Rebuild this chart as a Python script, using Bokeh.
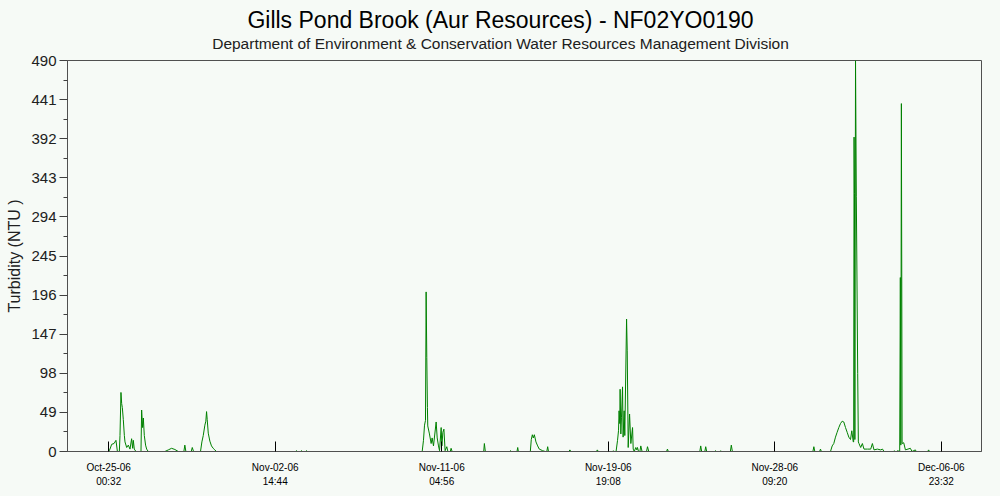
from datetime import datetime, timedelta

from bokeh.plotting import figure
from bokeh.models import (Range1d, FixedTicker, DatetimeTickFormatter, Label,
                          ColumnDataSource)
from bokeh.embed import file_html
from bokeh.resources import INLINE

# ---------------- data ----------------
title_text = "Gills Pond Brook (Aur Resources) - NF02YO0190"
subtitle_text = "Department of Environment & Conservation Water Resources Management Division"
y_label = "Turbidity (NTU )"

# reference time of the first tick (Oct-25-06 00:32)
t0 = datetime(2006, 10, 25, 0, 32)

# hours after t0
hours = [
    0, 1.6, 3.7, 6.6, 9.0, 10.8,
    13.2, 14.0, 15.2, 16.1, 16.9, 18.1, 19.4, 20.2, 22.3, 24.3, 26.4, 28.4, 29.7, 30.5, 31.7, 33.8,
    40.0, 40.8, 42.0, 42.9, 44.1, 45.7, 47.0, 49.0,
    69.6, 73.8, 77.9, 82.0, 86.2,
    93.1, 94.3, 95.6,
    102.2, 103.5, 105.1,
    113.7, 115.4, 117.1, 119.1, 120.3, 121.2, 122.0, 123.3, 125.3, 127.3, 129.4, 131.4, 133.5,
    231.3, 232.4, 233.5, 237.5, 238.6, 239.7, 243.7, 244.8, 246.0,
    388.2, 389.8, 391.1, 392.3, 393.1, 393.9, 394.7, 395.1, 397.2, 399.3, 400.5, 402.2, 405.5,
    406.8, 408.4, 409.7, 411.7, 412.6, 413.8, 415.1, 416.6, 418.7, 420.0, 423.0, 424.0, 425.3,
    464.4, 465.2, 466.4,
    496.3, 497.4, 498.5,
    505.6, 506.5, 507.3,
    522.1, 523.3, 524.6, 525.8, 527.1, 529.1, 531.2, 533.2, 537.4, 540.6,
    542.5, 543.6, 544.6,
    570.0, 571.1, 572.3,
    604.0, 605.1, 606.3,
    624.0, 625.0, 626.0, 628.3, 630.1, 631.3, 632.0, 632.9, 633.3, 634.2, 635.0, 636.3, 637.0, 638.3, 639.1,
    641.3, 642.1, 643.3, 645.0, 646.6, 648.7, 649.5, 650.8, 652.7, 654.0, 654.8, 656.1,
    657.8, 658.9, 660.5, 666.0, 667.2, 668.8, 690.8, 691.9, 693.0, 732.0, 733.1, 734.3,
    738.2, 739.3, 740.5, 750.5, 751.6, 752.5, 756.8, 757.8, 758.8, 769.8, 771.0, 772.3,
    872.0, 873.2, 874.4, 880.3, 881.4, 882.5, 893.8, 895.9, 897.9, 900.0, 902.0, 904.1, 906.2,
    908.3, 910.3, 912.4, 914.5, 916.5, 918.6, 920.2, 922.0, 922.5, 923.0, 923.5, 924.0, 924.8,
    925.8, 927.5, 928.3, 929.1, 931.2, 933.3, 935.3, 939.5, 943.6, 945.7, 947.7, 951.9,
    956.0, 958.2, 960.2, 971.5, 972.5, 973.6, 975.7, 976.7, 979.5, 980.3, 980.9, 981.6,
    982.5, 984.5, 986.6, 992.7, 994.8, 998.9, 1000.0, 1014.2, 1015.3, 1016.4, 1031.0,
]

turbidity = [
    0, 3, 9, 10, 14, 0,
    0, 20, 74, 60, 55, 40, 20, 12, 5, 8, 3, 16, 4, 14, 3, 0,
    0, 52, 30, 42, 20, 8, 3, 0,
    0, 2, 4, 2.5, 0,
    0, 8, 0,
    0, 5, 0,
    0, 12, 20, 33, 38, 50, 40, 23, 13, 7, 4, 2, 0,
    0, 1, 0, 0, 1, 0, 0, 1, 0,
    0, 14, 33, 39, 200, 118, 55, 32, 22, 10, 17, 7, 37,
    17, 7, 1, 30, 7, 24, 28, 1, 6, 0, 0, 4, 0,
    0, 10, 0,
    0, 1, 0,
    0, 5, 0,
    0, 15, 21, 17, 21, 12, 7, 3, 1, 0,
    0, 6, 0,
    0, 2, 0,
    0, 2, 0,
    0, 1, 0, 0, 14, 26, 51, 35, 78, 22, 43, 81, 18, 51, 20,
    166, 127, 5, 47, 10, 30, 3, 0, 5, 2, 5, 0,
    0, 7, 0, 0, 6, 0, 0, 3, 0, 0, 7, 0,
    0, 6, 0, 0, 1, 0, 0, 1, 0, 0, 8, 0,
    0, 6, 0, 0, 3, 0, 0, 7, 10, 18, 24, 30, 35,
    38, 37, 30, 24, 18, 15, 26, 12, 12, 394, 323, 15, 490,
    320, 98, 12, 10, 5, 10, 3, 3, 3, 10, 2, 3,
    2, 3, 0, 0, 1, 0, 0, 1, 0, 218, 8, 436,
    10, 11, 2, 4, 0, 2, 0, 0, 2, 0, 0,
]

# axis ticks
x_tick_hours = [0, 206.2, 412.4, 618.6, 824.8, 1031.0]
y_ticks = [0, 49, 98, 147, 196, 245, 294, 343, 392, 441, 490]
y_minor_ticks = [24.5, 73.5, 122.5, 171.5, 220.5, 269.5, 318.5, 367.5, 416.5, 465.5]
x_range_hours = (-51.0, 1080.8)

# ---------------- build ----------------
EPOCH = datetime(1970, 1, 1)


def to_dt(h):
    return t0 + timedelta(hours=h)


def to_ms(dt):
    return (dt - EPOCH).total_seconds() * 1000.0


times = [to_dt(h) for h in hours]
src = ColumnDataSource(dict(t=times, v=turbidity))

BG = "#F6FAF6"
FONT = "Liberation Sans"

p = figure(width=1000, height=496, x_axis_type="datetime",
           output_backend="svg", toolbar_location=None,
           x_range=Range1d(to_dt(x_range_hours[0]), to_dt(x_range_hours[1])),
           y_range=Range1d(0, 490),
           min_border_left=67, min_border_right=19,
           min_border_top=60, min_border_bottom=45,
           background_fill_color=BG, border_fill_color=BG)

p.outline_line_color = "#505050"
p.outline_line_width = 1
p.xgrid.visible = False
p.ygrid.visible = False

p.line("t", "v", source=src, line_color="#008000", line_width=1)

# x axis
xa = p.xaxis[0]
xa.ticker = FixedTicker(ticks=[to_ms(to_dt(h)) for h in x_tick_hours], minor_ticks=[])
fmt = "%b-%d-%y\n%H:%M"
xa.formatter = DatetimeTickFormatter(
    microseconds=fmt, milliseconds=fmt, seconds=fmt, minsec=fmt, minutes=fmt,
    hourmin=fmt, hours=fmt, days=fmt, months=fmt, years=fmt,
    strip_leading_zeros=False)
xa.major_tick_in = 10
xa.major_tick_out = 0
xa.major_tick_line_color = "#000000"
xa.axis_line_color = "#505050"
xa.major_label_text_font = FONT
xa.major_label_text_font_size = "10px"
xa.major_label_text_color = "#000000"
xa.major_label_text_line_height = 1.3
xa.major_label_standoff = 10

# y axis
ya = p.yaxis[0]
ya.ticker = FixedTicker(ticks=y_ticks, minor_ticks=y_minor_ticks)
ya.major_tick_in = 0
ya.major_tick_out = 8
ya.minor_tick_in = 0
ya.minor_tick_out = 4
ya.major_tick_line_color = "#404040"
ya.minor_tick_line_color = "#404040"
ya.axis_line_color = "#505050"
ya.major_label_text_font = FONT
ya.major_label_text_font_size = "15px"
ya.major_label_text_color = "#202020"
ya.major_label_standoff = 3
ya.axis_label = y_label
ya.axis_label_text_font = FONT
ya.axis_label_text_font_size = "16px"
ya.axis_label_text_font_style = "normal"
ya.axis_label_text_color = "#202020"
ya.axis_label_standoff = 5

# titles (centred on the whole canvas), placed in the top panel so they are not clipped
p.add_layout(Label(x=433, y=41, x_units="screen", y_units="screen",
                   text=title_text, text_align="center", text_baseline="middle",
                   text_font=FONT, text_font_size="23px", text_color="#000000"), "above")
p.add_layout(Label(x=433, y=-9, x_units="screen", y_units="screen",
                   text=subtitle_text, text_align="center", text_baseline="middle",
                   text_font=FONT, text_font_size="15.5px", text_color="#202020"), "above")

html = file_html(p, INLINE)
html = html.replace("<head>", "<head><style>html,body{background:%s;}</style>" % BG, 1)
open("out.html", "w").write(html)
